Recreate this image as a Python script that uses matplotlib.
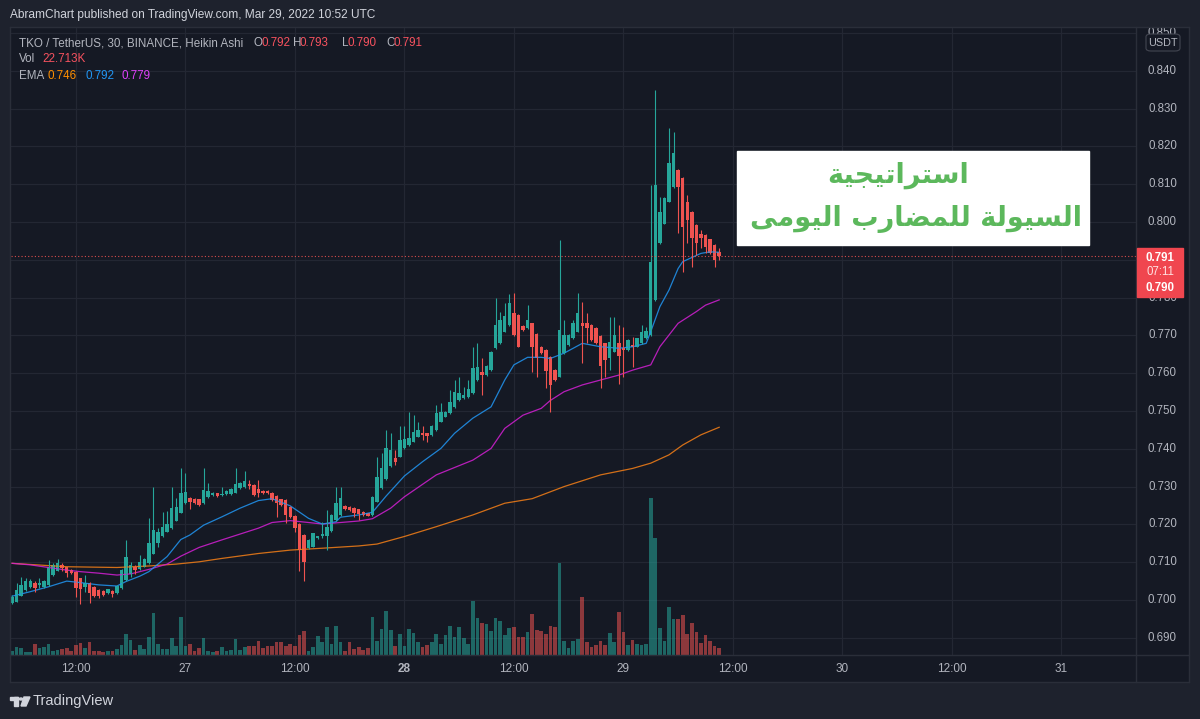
import numpy as np
import matplotlib.pyplot as plt
from matplotlib.patches import Rectangle, FancyBboxPatch, Circle, Polygon
from matplotlib.lines import Line2D

# TKO / USDT, 30 min Heikin Ashi candles (Mar 26 05:00 .. Mar 29 10:30)
opens = [.6991, .6996, .7011, .7026, .7035, .7044, .7040, .7035, .7040, .7066,
         .7078, .7093, .7086, .7079, .7075, .7057, .7035, .7046, .7034, .7026,
         .7024, .7018, .7024, .7018, .7031, .7053, .7069, .7086, .7081, .7088,
         .7097, .7123, .7150, .7168, .7181, .7190, .7210, .7231, .7256, .7271,
         .7268, .7266, .7256, .7273, .7278, .7282, .7278, .7280, .7280, .7284,
         .7295, .7298, .7307, .7304, .7293, .7289, .7288, .7284, .7275, .7266,
         .7265, .7247, .7222, .7201, .7172, .7137, .7141, .7163, .7168, .7168,
         .7183, .7212, .7225, .7249, .7247, .7243, .7240, .7234, .7229, .7225,
         .7260, .7295, .7320, .7355, .7375, .7379, .7401, .7410, .7419, .7432,
         .7443, .7441, .7437, .7450, .7472, .7485, .7494, .7511, .7529, .7534,
         .7536, .7547, .7582, .7604, .7595, .7608, .7666, .7679, .7710, .7728,
         .7758, .7754, .7725, .7719, .7732, .7705, .7670, .7661, .7644, .7608,
         .7591, .7653, .7675, .7692, .7710, .7734, .7732, .7728, .7719, .7698,
         .7679, .7639, .7657, .7681, .7666, .7661, .7675, .7670, .7679, .7692,
         .7701, .7794, .7944, .7996, .8054, .8092, .8138, .8116, .8054, .8027,
         .7992, .7968, .7966, .7954, .7939, .7920]
closes = [.7009, .7026, .7041, .7049, .7051, .7031, .7044, .7049, .7088, .7093,
          .7099, .7084, .7072, .7071, .7031, .7028, .7044, .7018, .7011, .7011,
          .7013, .7028, .7016, .7037, .7079, .7115, .7093, .7079, .7101, .7108,
          .7150, .7185, .7180, .7194, .7201, .7243, .7245, .7284, .7287, .7260,
          .7256, .7251, .7291, .7289, .7284, .7275, .7280, .7289, .7293, .7307,
          .7309, .7316, .7302, .7278, .7282, .7282, .7282, .7265, .7256, .7251,
          .7225, .7220, .7190, .7132, .7101, .7160, .7176, .7168, .7174, .7194,
          .7225, .7256, .7269, .7240, .7238, .7229, .7228, .7225, .7223, .7272,
          .7325, .7348, .7402, .7397, .7366, .7423, .7425, .7428, .7445, .7450,
          .7437, .7435, .7461, .7494, .7498, .7498, .7525, .7551, .7547, .7542,
          .7557, .7613, .7617, .7595, .7619, .7657, .7728, .7741, .7750, .7785,
          .7701, .7670, .7714, .7741, .7670, .7639, .7653, .7605, .7569, .7582,
          .7714, .7701, .7701, .7732, .7758, .7725, .7719, .7688, .7679, .7619,
          .7635, .7683, .7701, .7646, .7661, .7688, .7670, .7692, .7710, .7712,
          .7895, .8098, .8027, .8063, .8155, .8182, .8093, .7988, .8005, .7957,
          .7944, .7957, .7935, .7917, .7899, .7910]
highs = [.7013, .7046, .7062, .7059, .7055, .7049, .7057, .7052, .7106, .7097,
         .7108, .7099, .7088, .7081, .7077, .7059, .7066, .7048, .7036, .7028,
         .7026, .7030, .7026, .7039, .7081, .7160, .7101, .7093, .7119, .7110,
         .7216, .7300, .7190, .7234, .7236, .7300, .7269, .7348, .7335, .7273,
         .7270, .7268, .7348, .7309, .7286, .7284, .7298, .7291, .7295, .7348,
         .7311, .7340, .7317, .7306, .7317, .7291, .7290, .7286, .7277, .7268,
         .7267, .7249, .7224, .7203, .7174, .7162, .7178, .7170, .7207, .7238,
         .7227, .7298, .7298, .7251, .7249, .7245, .7242, .7236, .7231, .7274,
         .7379, .7388, .7450, .7441, .7397, .7459, .7459, .7498, .7489, .7472,
         .7459, .7443, .7463, .7516, .7520, .7500, .7556, .7582, .7591, .7564,
         .7582, .7670, .7681, .7639, .7621, .7659, .7798, .7763, .7785, .7810,
         .7811, .7756, .7727, .7780, .7734, .7707, .7672, .7663, .7646, .7610,
         .7952, .7741, .7703, .7741, .7811, .7789, .7758, .7730, .7721, .7700,
         .7681, .7750, .7750, .7728, .7723, .7690, .7697, .7694, .7728, .7723,
         .8098, .8349, .8067, .8065, .8248, .8239, .8140, .8118, .8071, .8029,
         .7994, .7979, .7968, .7956, .7941, .7930]
lows = [.6989, .6994, .7010, .7024, .7033, .7022, .7031, .7033, .7038, .7064,
        .7076, .7078, .7060, .7068, .7009, .6989, .7022, .6991, .7008, .7005,
        .7010, .7016, .7009, .7016, .7029, .7051, .7062, .7069, .7079, .7086,
        .7095, .7121, .7140, .7166, .7179, .7188, .7208, .7229, .7254, .7240,
        .7254, .7249, .7254, .7271, .7276, .7273, .7276, .7278, .7278, .7282,
        .7293, .7296, .7293, .7276, .7272, .7280, .7280, .7263, .7219, .7249,
        .7203, .7218, .7181, .7078, .7049, .7135, .7139, .7161, .7163, .7132,
        .7181, .7210, .7223, .7238, .7236, .7220, .7212, .7223, .7221, .7223,
        .7258, .7293, .7318, .7353, .7357, .7377, .7399, .7408, .7417, .7430,
        .7423, .7419, .7435, .7448, .7470, .7483, .7492, .7509, .7527, .7532,
        .7534, .7545, .7580, .7542, .7593, .7606, .7664, .7677, .7708, .7726,
        .7699, .7668, .7712, .7717, .7604, .7591, .7651, .7562, .7498, .7580,
        .7589, .7651, .7673, .7690, .7708, .7626, .7679, .7686, .7677, .7560,
        .7591, .7608, .7655, .7571, .7591, .7659, .7617, .7668, .7677, .7690,
        .7699, .7792, .7942, .7994, .8052, .8090, .7970, .7868, .7944, .7882,
        .7913, .7930, .7917, .7915, .7882, .7900]
volume_k = [15, 28, 23, 11, 10, 36, 23, 28, 36, 15,
            16, 21, 23, 14, 33, 42, 25, 45, 14, 14,
            11, 14, 15, 21, 34, 70, 51, 16, 34, 19,
            62, 143, 38, 21, 19, 59, 31, 129, 30, 36,
            14, 25, 57, 15, 9, 15, 26, 15, 18, 54,
            18, 26, 32, 32, 49, 23, 32, 32, 43, 43,
            32, 37, 32, 68, 81, 15, 26, 64, 45, 94,
            37, 100, 45, 15, 45, 20, 26, 18, 23, 128,
            49, 88, 148, 85, 32, 71, 32, 88, 75, 45,
            26, 34, 45, 71, 37, 68, 100, 60, 94, 57,
            37, 185, 125, 109, 105, 83, 125, 117, 68, 91,
            94, 60, 60, 79, 139, 85, 82, 70, 98, 96,
            312, 48, 23, 48, 55, 197, 44, 28, 33, 47,
            33, 75, 44, 145, 78, 33, 51, 36, 33, 36,
            533, 398, 91, 48, 164, 121, 123, 135, 70, 108,
            78, 40, 67, 48, 31, 22.713]

# EMA lines, read at a handful of bars
ema_fast_idx = [0, 4, 8, 12, 15, 19, 23, 25, 28, 30, 34, 37, 39, 42, 46, 50, 54, 57, 61, 65,
                68, 71, 72, 76, 79, 82, 86, 90, 94, 97, 101, 105, 108, 110, 113, 116, 118, 121,
                125, 129, 133, 136, 139, 140, 142, 144, 146, 147, 151, 153, 155]
ema_fast = [.7010, .7022, .7035, .7050, .7046, .7040, .7037, .7049, .7063, .7075, .7115, .7160,
            .7172, .7198, .7220, .7243, .7263, .7268, .7249, .7216, .7201, .7207, .7219, .7225,
            .7232, .7275, .7328, .7366, .7401, .7441, .7481, .7511, .7582, .7622, .7642, .7642,
            .7639, .7653, .7679, .7670, .7666, .7670, .7679, .7710, .7776, .7820, .7877, .7895,
            .7917, .7921, .7920]
ema_mid_idx = [0, 4, 8, 12, 15, 19, 23, 26, 30, 34, 37, 41, 46, 54, 57, 61, 65, 68, 72, 76, 79,
               83, 86, 93, 101, 105, 108, 112, 116, 118, 121, 125, 129, 133, 136, 140, 142, 146,
               150, 152, 155]
ema_mid = [.7097, .7093, .7086, .7079, .7075, .7071, .7066, .7069, .7081, .7095, .7116, .7139,
           .7159, .7190, .7205, .7210, .7205, .7201, .7205, .7209, .7215, .7243, .7273, .7331,
           .7370, .7401, .7454, .7489, .7507, .7528, .7551, .7569, .7582, .7595, .7608, .7622,
           .7670, .7732, .7763, .7780, .7794]
ema_slow_idx = [0, 12, 23, 30, 36, 41, 46, 54, 61, 68, 76, 80, 86, 93, 101, 108, 114, 121, 129,
                136, 140, 144, 147, 151, 155]
ema_slow = [.7097, .7088, .7086, .7090, .7095, .7101, .7110, .7123, .7132, .7137, .7143, .7148,
            .7168, .7194, .7225, .7256, .7268, .7300, .7331, .7348, .7362, .7384, .7410, .7437,
            .7457]

time_ticks = [14, 38, 62, 86, 110, 134, 158, 182, 206, 230]
time_labels = ['12:00', '27', '12:00', '28', '12:00', '29', '12:00', '30', '12:00', '31']
price_ticks = [0.690, 0.700, 0.710, 0.720, 0.730, 0.740, 0.750, 0.760, 0.770, 0.780,
               0.790, 0.800, 0.810, 0.820, 0.830, 0.840, 0.850]
last_close = 0.791

# ---- styling ----
W, H = 1200, 719
BG = '#1e222d'
PANE = '#151924'
GRID = '#232733'
BORDER = '#2a2e39'
TXT = '#b2b5be'
UP = '#26a69a'
DOWN = '#ef5350'
C_FAST, C_MID, C_SLOW = '#2196f3', '#d41fd4', '#f57f17'

plt.rcParams['font.family'] = ['Liberation Sans', 'DejaVu Sans']


def fx(x):
    return x / W


def fy(y):
    return 1 - y / H


def box(x0, y0, x1, y1):
    return [fx(x0), fy(y1), (x1 - x0) / W, (y1 - y0) / H]


def bare(a, face):
    a.set_facecolor(face)
    a.set_xticks([])
    a.set_yticks([])
    for s in a.spines.values():
        s.set_visible(False)


fig = plt.figure(figsize=(W / 100, H / 100), dpi=100, facecolor=BG)

XL = (10.5, 1136)
YL = (27, 655)
step = 4.5625
xlim = ((XL[0] - 12) / step, (XL[1] - 12) / step)
ylim = (0.700 + (600 - YL[1]) / 3780, 0.700 + (600 - YL[0]) / 3780)

x = np.arange(len(opens))
o = np.array(opens)
c = np.array(closes)
up = c >= o
cols = np.where(up, UP, DOWN)

# background pane with grid
ax_bg = fig.add_axes(box(XL[0], YL[0], XL[1], YL[1]))
bare(ax_bg, PANE)
ax_bg.set_xlim(xlim)
ax_bg.set_ylim(ylim)
for p in price_ticks:
    ax_bg.axhline(p, color=GRID, lw=0.9, zorder=0)
for t in time_ticks:
    ax_bg.axvline(t, color=GRID, lw=0.9, zorder=0)

# volume overlay
ax_vol = fig.add_axes(box(XL[0], YL[0], XL[1], YL[1]))
bare(ax_vol, 'none')
ax_vol.set_xlim(xlim)
ax_vol.set_ylim(0, (YL[1] - YL[0]) * 3.4)
ax_vol.bar(x, volume_k, width=0.8, color=cols, alpha=0.55, linewidth=0)

# price candles + EMAs
ax = fig.add_axes(box(XL[0], YL[0], XL[1], YL[1]))
bare(ax, 'none')
ax.set_xlim(xlim)
ax.set_ylim(ylim)
ax.plot(ema_slow_idx, ema_slow, color=C_SLOW, lw=0.9, alpha=0.85)
ax.plot(ema_mid_idx, ema_mid, color=C_MID, lw=0.9, alpha=0.85)
ax.plot(ema_fast_idx, ema_fast, color=C_FAST, lw=0.9, alpha=0.85)
ax.vlines(x, lows, highs, colors=cols, lw=0.8)
ax.bar(x, np.maximum(np.abs(c - o), 0.0002), bottom=np.minimum(o, c), width=0.76,
       color=cols, linewidth=0)
ax.axhline(last_close, color=DOWN, lw=0.8, ls=(0, (1, 2)), alpha=0.9)

# price scale
ax_p = fig.add_axes(box(1136, YL[0], 1189, YL[1]))
bare(ax_p, PANE)
ax_p.set_ylim(ylim)
ax_p.set_xlim(0, 1)
for p in price_ticks:
    if abs(p - 0.790) < 1e-6:
        continue
    ax_p.text(0.5, p, f'{p:.3f}', ha='center', va='center', color=TXT, fontsize=8.3, clip_on=True)

# time scale
ax_t = fig.add_axes(box(XL[0], 655, 1189, 682))
bare(ax_t, PANE)
ax_t.set_xlim(xlim[0], (1189 - 12) / step)
ax_t.set_ylim(0, 1)
for t, lab in zip(time_ticks, time_labels):
    ax_t.text(t, 0.5, lab, ha='center', va='center', color=TXT, fontsize=8.5,
              fontweight='bold' if lab == '28' else 'normal')

# frame lines
for seg in [((10, 1189), (27, 27)), ((10, 1189), (682, 682)), ((10, 10), (27, 682)),
            ((1189, 1189), (27, 682)), ((1136, 1136), (27, 682)), ((10, 1189), (655, 655))]:
    fig.add_artist(Line2D([fx(v) for v in seg[0]], [fy(v) for v in seg[1]],
                          color=BORDER, lw=1.0))

# last price tag
fig.add_artist(Rectangle((fx(1137), fy(297)), 46 / W, 49 / H, color='#f0464f', zorder=5))
fig.text(fx(1160), fy(258), '0.791', color='white', fontsize=8.3, fontweight='bold',
         ha='center', va='center', zorder=6)
fig.text(fx(1160), fy(272), '07:11', color='#ffe0e0', fontsize=8.3, ha='center', va='center',
         zorder=6)
fig.text(fx(1160), fy(288), '0.790', color='white', fontsize=8.3, fontweight='bold',
         ha='center', va='center', zorder=6)

# currency badge
fig.add_artist(FancyBboxPatch((fx(1146), fy(51)), 34 / W, 17 / H,
                              boxstyle='round,pad=0,rounding_size=0.004',
                              fc=PANE, ec='#434651', lw=0.8, zorder=5))
fig.text(fx(1163), fy(42.5), 'USDT', color=TXT, fontsize=7.8, ha='center', va='center', zorder=6)

# header
fig.text(fx(10), fy(15), 'AbramChart published on TradingView.com, Mar 29, 2022 10:52 UTC',
         color='#d1d4dc', fontsize=8.6, ha='left', va='center')
fs = 8.4
fig.text(fx(19), fy(43), 'TKO / TetherUS, 30, BINANCE, Heikin Ashi', color=TXT, fontsize=fs,
         va='center')
for lx, lab, vx, val in [(253, 'O', 261, '0.792'), (293, 'H', 300, '0.793'),
                         (342, 'L', 348, '0.790'), (386, 'C', 394, '0.791')]:
    fig.text(fx(lx), fy(43), lab, color=TXT, fontsize=fs, va='center')
    fig.text(fx(vx), fy(43), val, color='#f7525f', fontsize=fs, va='center')
fig.text(fx(19), fy(59.5), 'Vol', color=TXT, fontsize=fs, va='center')
fig.text(fx(42), fy(59.5), '22.713K', color='#f7525f', fontsize=fs, va='center')
fig.text(fx(19), fy(76), 'EMA', color=TXT, fontsize=fs, va='center')
for vx, val, col in [(48, '0.746', '#ff8f00'), (85, '0.792', C_FAST), (122, '0.779', '#e040fb')]:
    fig.text(fx(vx), fy(76), val, color=col, fontsize=fs, va='center')

# annotation box with Arabic text (shaped to presentation forms, laid out right-to-left)
FORMS = {
    'ا': ('\uFE8D', '\uFE8E', None, None),
    'ب': ('\uFE8F', '\uFE90', '\uFE91', '\uFE92'),
    'ة': ('\uFE93', '\uFE94', None, None),
    'ت': ('\uFE95', '\uFE96', '\uFE97', '\uFE98'),
    'ج': ('\uFE9D', '\uFE9E', '\uFE9F', '\uFEA0'),
    'ر': ('\uFEAD', '\uFEAE', None, None),
    'س': ('\uFEB1', '\uFEB2', '\uFEB3', '\uFEB4'),
    'ض': ('\uFEBD', '\uFEBE', '\uFEBF', '\uFEC0'),
    'ل': ('\uFEDD', '\uFEDE', '\uFEDF', '\uFEE0'),
    'م': ('\uFEE1', '\uFEE2', '\uFEE3', '\uFEE4'),
    'و': ('\uFEED', '\uFEEE', None, None),
    'ى': ('\uFEEF', '\uFEF0', None, None),
    'ي': ('\uFEF1', '\uFEF2', '\uFEF3', '\uFEF4'),
}


def shape_arabic(s):
    out = []
    for k, ch in enumerate(s):
        if ch not in FORMS:
            out.append(ch)
            continue
        prev = s[k - 1] if k > 0 else ''
        nxt = s[k + 1] if k + 1 < len(s) else ''
        join_prev = prev in FORMS and FORMS[prev][2] is not None
        join_next = nxt in FORMS and FORMS[ch][2] is not None
        iso, fin, ini, med = FORMS[ch]
        if join_prev and join_next:
            out.append(med)
        elif join_prev:
            out.append(fin)
        elif join_next:
            out.append(ini)
        else:
            out.append(iso)
    return ''.join(out)[::-1]


fig.add_artist(Rectangle((fx(737), fy(245)), 352 / W, 94 / H, color='white', zorder=5))
fig.text(fx(898), fy(175), shape_arabic('استراتيجية'), color='#5cb85c', fontsize=19.5,
         fontweight='bold', family='DejaVu Sans', ha='center', va='center', zorder=6)
fig.text(fx(916), fy(219), shape_arabic('السيولة للمضارب اليومى'), color='#5cb85c',
         fontsize=19.5, fontweight='bold', family='DejaVu Sans', ha='center', va='center',
         zorder=6)

# TradingView logo
LOGO = '#d1d4dc'
fig.add_artist(Rectangle((fx(10), fy(700)), 8 / W, 3.5 / H, color=LOGO))
fig.add_artist(Rectangle((fx(14), fy(706)), 4 / W, 9 / H, color=LOGO))
fig.add_artist(Circle((fx(21), fy(699)), 1.7 / W, color=LOGO))
fig.add_artist(Polygon([(fx(24), fy(697)), (fx(30), fy(697)), (fx(26), fy(706)),
                        (fx(21), fy(706))], closed=True, color=LOGO))
fig.text(fx(33), fy(701), 'TradingView', color=LOGO, fontsize=10.5, ha='left', va='center')

fig.savefig('out.png', dpi=100, facecolor=BG)
